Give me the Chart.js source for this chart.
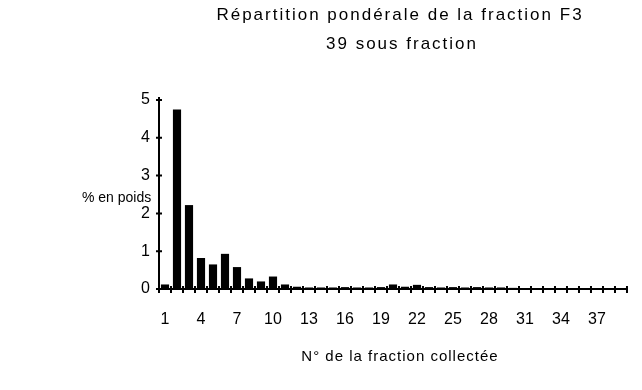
<!DOCTYPE html>
<html>
<head>
<meta charset="utf-8">
<script src="https://cdn.jsdelivr.net/npm/chart.js@4/dist/chart.umd.min.js"></script>
<style>
  html, body { margin: 0; padding: 0; background: #fff; }
  #wrap { width: 642px; height: 390px; }
</style>
</head>
<body>
<div id="wrap"><canvas id="poidsChart"></canvas></div>
<script>
// sous-fractions 1..39
const fractions = Array.from({ length: 39 }, (_, i) => String(i + 1));

// % en poids de chaque sous-fraction
const poids = [
  0.12, 4.75, 2.22, 0.82, 0.65, 0.93, 0.58, 0.28, 0.20, 0.33,
  0.12, 0.06, 0.04, 0.04, 0.04, 0.05, 0.04, 0.04, 0.05, 0.12,
  0.06, 0.11, 0.05, 0.04, 0.05, 0.04, 0.05, 0.04, 0.04, 0.03,
  0.02, 0.01, 0.01, 0.01, 0.01, 0.01, 0.01, 0.01, 0.01
];

const yTicks = [0, 1, 2, 3, 4, 5];

const titre = ["Répartition pondérale de la fraction F3", "39 sous fraction"];
const titreY = "% en poids";
const titreX = "N° de la fraction collectée";

const police = "'Liberation Sans', Arial, sans-serif";

// axes en croix + textes
const decor = {
  id: "decor",
  afterDraw(chart) {
    const { ctx, chartArea, scales } = chart;
    const y = scales.y;
    ctx.save();
    ctx.strokeStyle = "#000";
    ctx.lineWidth = 2;

    // axe Y et ses graduations
    ctx.beginPath();
    ctx.moveTo(chartArea.left, y.getPixelForValue(5) - 3);
    ctx.lineTo(chartArea.left, chartArea.bottom);
    yTicks.forEach(v => {
      const py = y.getPixelForValue(v);
      ctx.moveTo(chartArea.left - 3, py);
      ctx.lineTo(chartArea.left + 3, py);
    });
    ctx.stroke();

    // axe X et ses graduations
    ctx.beginPath();
    ctx.moveTo(chartArea.left, chartArea.bottom);
    ctx.lineTo(chartArea.right, chartArea.bottom);
    const pas = (chartArea.right - chartArea.left) / fractions.length;
    for (let i = 0; i <= fractions.length; i++) {
      const px = chartArea.left + i * pas;
      ctx.moveTo(px, chartArea.bottom - 3);
      ctx.lineTo(px, chartArea.bottom + 4);
    }
    ctx.stroke();

    ctx.fillStyle = "#000";
    ctx.textBaseline = "middle";
    ctx.textAlign = "center";
    ctx.font = "17px " + police;
    ctx.letterSpacing = "2px";
    ctx.fillText(titre[0], 400, 15);
    ctx.fillText(titre[1], 402, 44);

    ctx.font = "14px " + police;
    ctx.letterSpacing = "0px";
    ctx.textAlign = "left";
    ctx.fillText(titreY, 82, 198);
    ctx.font = "15px " + police;
    ctx.letterSpacing = "1px";
    ctx.textAlign = "center";
    ctx.fillText(titreX, 400, 357);
    ctx.restore();
  }
};

new Chart(document.getElementById("poidsChart"), {
  type: "bar",
  data: {
    labels: fractions,
    datasets: [{
      data: poids,
      backgroundColor: "#000",
      borderWidth: 0,
      barPercentage: 0.68,
      categoryPercentage: 1.0
    }]
  },
  options: {
    responsive: true,
    maintainAspectRatio: false,
    animation: false,
    layout: { padding: { top: 100, right: 1, left: 0, bottom: 0 } },
    plugins: {
      legend: { display: false },
      title: { display: false },
      tooltip: { enabled: false }
    },
    scales: {
      x: {
        grid: { display: false, drawTicks: false },
        border: { display: false },
        afterFit: s => { s.height = 101; },
        ticks: {
          color: "#000",
          font: { family: police, size: 16 },
          padding: 21,
          autoSkip: false,
          maxRotation: 0,
          callback: (v, i) => (i % 3 === 0 ? fractions[i] : "")
        }
      },
      y: {
        min: 0,
        max: 5,
        grid: { display: false, drawTicks: false },
        border: { display: false },
        afterFit: s => { s.width = 159; },
        afterBuildTicks: s => { s.ticks = yTicks.map(v => ({ value: v })); },
        ticks: {
          color: "#000",
          font: { family: police, size: 16 },
          padding: 9
        }
      }
    }
  },
  plugins: [decor]
});
</script>
</body>
</html>
